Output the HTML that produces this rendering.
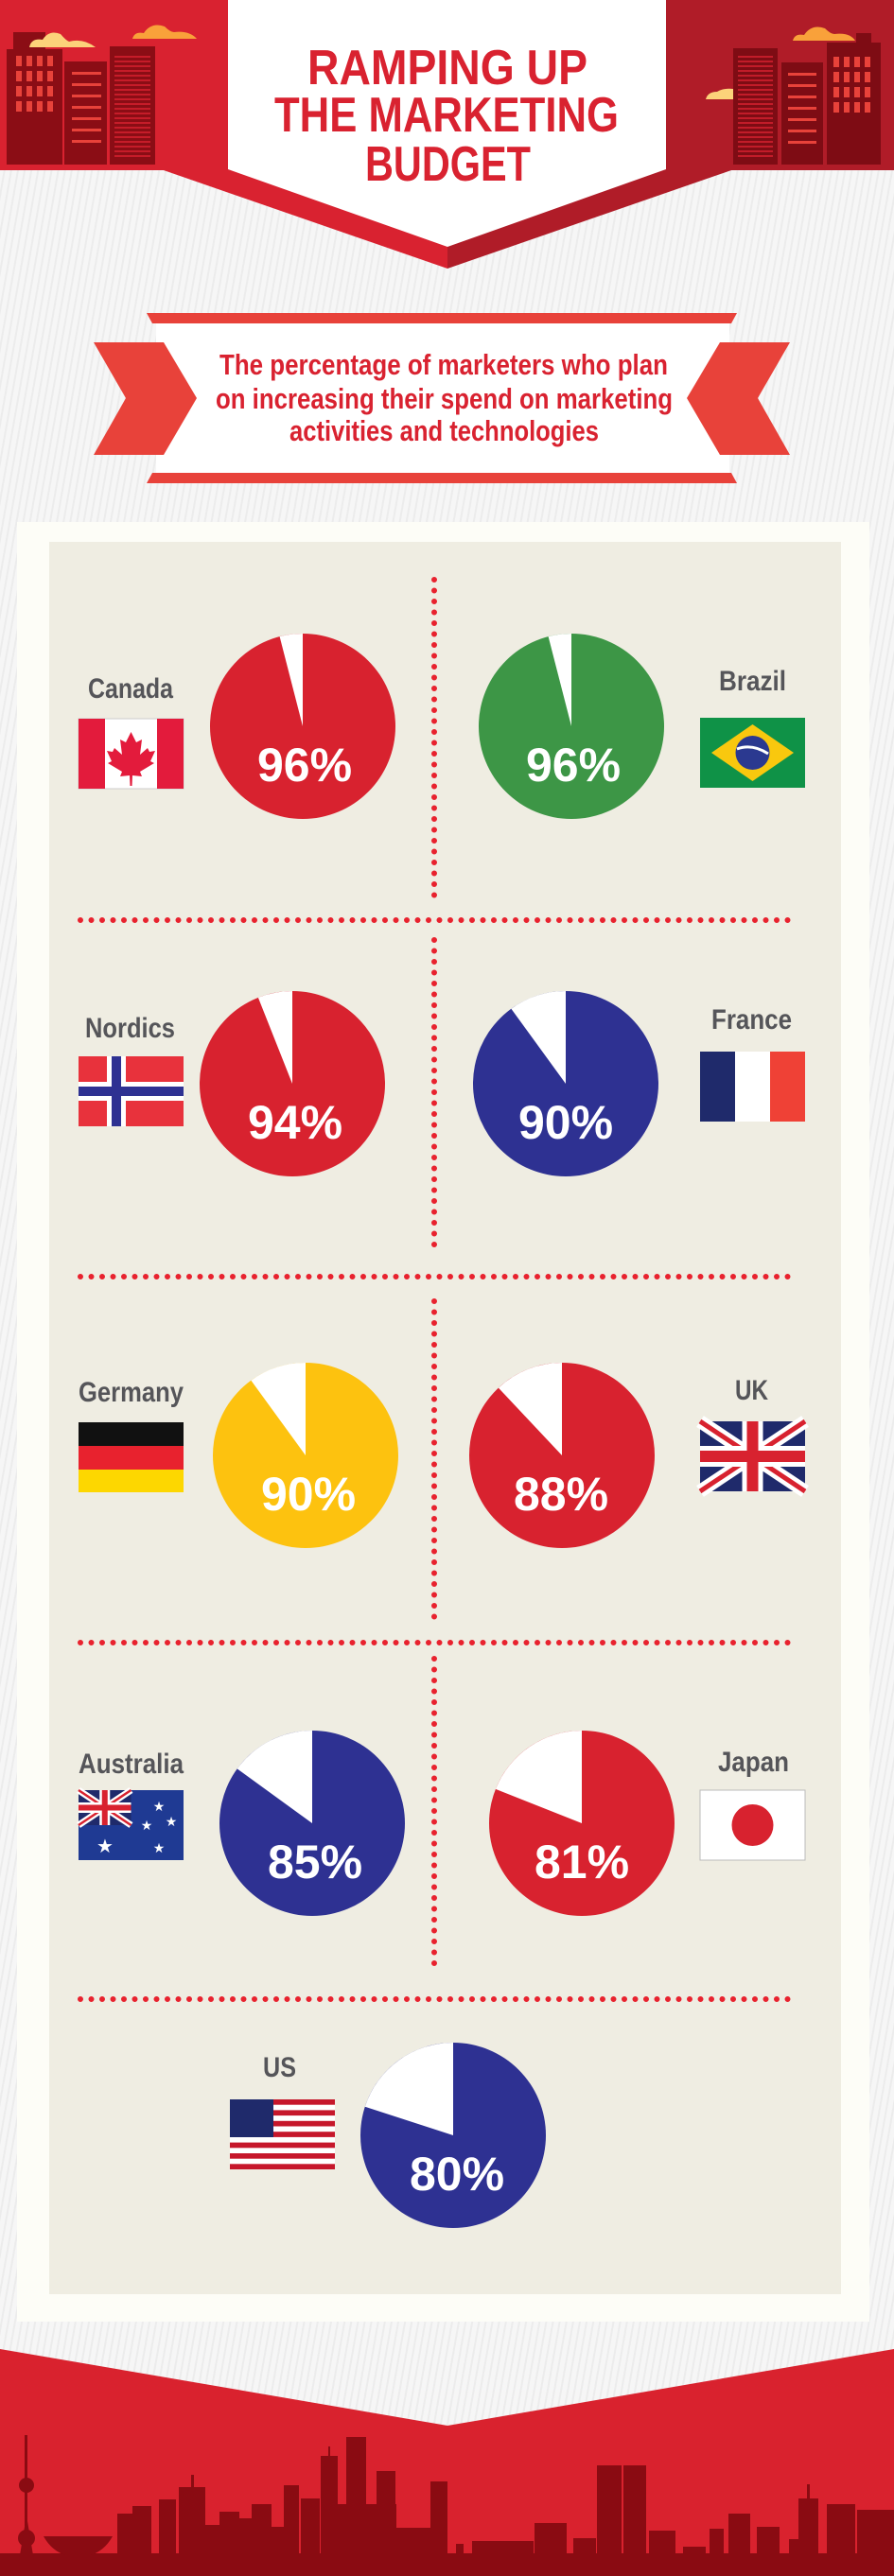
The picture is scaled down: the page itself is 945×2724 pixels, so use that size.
<!DOCTYPE html>
<html><head><meta charset="utf-8"><style>
html,body{margin:0;padding:0;background:#f4f4f4;}
svg{display:block;}
.t{font-family:"Liberation Sans",sans-serif;font-weight:bold;}
</style></head><body>
<svg width="945" height="2724" viewBox="0 0 945 2724" xmlns="http://www.w3.org/2000/svg">
<defs>
<pattern id="st" width="7" height="7" patternUnits="userSpaceOnUse" patternTransform="rotate(10)">
<rect width="7" height="7" fill="#f6f6f6"/><rect width="2" height="7" fill="#ececec"/>
</pattern>
<g id="uk">
<rect width="111" height="74" fill="#1f2a6b"/>
<path d="M0 0L111 74M111 0L0 74" stroke="#fff" stroke-width="14"/>
<path d="M0 0L111 74M111 0L0 74" stroke="#d8222f" stroke-width="5"/>
<path d="M55.5 0V74M0 37H111" stroke="#fff" stroke-width="22"/>
<path d="M55.5 0V74M0 37H111" stroke="#d8222f" stroke-width="12"/>
</g>
</defs>
<rect width="945" height="2724" fill="url(#st)"/>

<!-- header -->
<rect x="0" y="0" width="241" height="180" fill="#d92230"/>
<rect x="704" y="0" width="241" height="180" fill="#b01c28"/>
<polygon points="170,179 473,179 473,284" fill="#d92230"/>
<polygon points="473,179 776,179 473,284" fill="#b01c28"/>
<polygon points="241,0 704,0 704,179 473,261 241,179" fill="#fff"/>
<!-- left buildings -->
<g fill="#8b0d15">
<rect x="7" y="52" width="59" height="122"/><rect x="14" y="34" width="34" height="19"/>
<rect x="68" y="65" width="45" height="109"/>
<rect x="116" y="49" width="48" height="125"/>
</g>
<g fill="#e8423a">
<rect x="17" y="59" width="6" height="11"/><rect x="28" y="59" width="6" height="11"/><rect x="39" y="59" width="6" height="11"/><rect x="50" y="59" width="6" height="11"/>
<rect x="17" y="75" width="6" height="11"/><rect x="28" y="75" width="6" height="11"/><rect x="39" y="75" width="6" height="11"/><rect x="50" y="75" width="6" height="11"/>
<rect x="17" y="91" width="6" height="11"/><rect x="28" y="91" width="6" height="11"/><rect x="39" y="91" width="6" height="11"/><rect x="50" y="91" width="6" height="11"/>
<rect x="17" y="107" width="6" height="11"/><rect x="28" y="107" width="6" height="11"/><rect x="39" y="107" width="6" height="11"/><rect x="50" y="107" width="6" height="11"/>
<rect x="76" y="76" width="31" height="3"/><rect x="76" y="88" width="31" height="3"/><rect x="76" y="100" width="31" height="3"/><rect x="76" y="112" width="31" height="3"/><rect x="76" y="124" width="31" height="3"/><rect x="76" y="136" width="31" height="3"/><rect x="76" y="148" width="31" height="3"/>
</g>
<g stroke="#d92230" stroke-width="1.5">
<path d="M121 60H159M121 65H159M121 70H159M121 75H159M121 80H159M121 85H159M121 90H159M121 95H159M121 100H159M121 105H159M121 110H159M121 115H159M121 120H159M121 125H159M121 130H159M121 135H159M121 140H159M121 145H159M121 150H159M121 155H159M121 160H159M121 165H159"/>
</g>
<path d="M31 50Q33 40 45 42Q52 31 64 36Q70 43 73 44Q88 40 101 50Z" fill="#fcd27a"/>
<path d="M140 41Q142 33 152 35Q160 23 174 28Q180 34 184 34Q200 32 208 41Z" fill="#f9a13a"/>
<!-- right buildings -->
<g fill="#7e0c14">
<rect x="775" y="51" width="47" height="123"/>
<rect x="826" y="66" width="44" height="108"/>
<rect x="874" y="45" width="57" height="129"/><rect x="905" y="35" width="16" height="11"/>
</g>
<g stroke="#d92230" stroke-width="1.5">
<path d="M780 60H817M780 65H817M780 70H817M780 75H817M780 80H817M780 85H817M780 90H817M780 95H817M780 100H817M780 105H817M780 110H817M780 115H817M780 120H817M780 125H817M780 130H817M780 135H817M780 140H817M780 145H817M780 150H817M780 155H817M780 160H817M780 165H817"/>
</g>
<g fill="#e8423a">
<rect x="833" y="77" width="30" height="3"/><rect x="833" y="89" width="30" height="3"/><rect x="833" y="101" width="30" height="3"/><rect x="833" y="113" width="30" height="3"/><rect x="833" y="125" width="30" height="3"/><rect x="833" y="137" width="30" height="3"/><rect x="833" y="149" width="30" height="3"/>
<rect x="881" y="60" width="6" height="11"/><rect x="892" y="60" width="6" height="11"/><rect x="903" y="60" width="6" height="11"/><rect x="914" y="60" width="6" height="11"/>
<rect x="881" y="76" width="6" height="11"/><rect x="892" y="76" width="6" height="11"/><rect x="903" y="76" width="6" height="11"/><rect x="914" y="76" width="6" height="11"/>
<rect x="881" y="92" width="6" height="11"/><rect x="892" y="92" width="6" height="11"/><rect x="903" y="92" width="6" height="11"/><rect x="914" y="92" width="6" height="11"/>
<rect x="881" y="108" width="6" height="11"/><rect x="892" y="108" width="6" height="11"/><rect x="903" y="108" width="6" height="11"/><rect x="914" y="108" width="6" height="11"/>
</g>
<path d="M838 43Q840 35 850 37Q858 25 872 30Q878 36 882 36Q898 34 904 43Z" fill="#f9a13a"/>
<path d="M746 105Q748 97 758 97Q764 93 775 94V105Z" fill="#fcd27a"/>

<g class="t" fill="#d92230" font-size="52">
<text x="325" y="89" textLength="296" lengthAdjust="spacingAndGlyphs">RAMPING UP</text>
<text x="290" y="139" textLength="364" lengthAdjust="spacingAndGlyphs">THE MARKETING</text>
<text x="386" y="191" textLength="175" lengthAdjust="spacingAndGlyphs">BUDGET</text>
</g>

<!-- ribbon -->
<rect x="165" y="342" width="606" height="158" fill="#fff"/>
<polygon points="155,331 779,331 773,342 161,342" fill="#e8423a"/>
<polygon points="161,500 773,500 779,511 155,511" fill="#e8423a"/>
<polygon points="99,362 173,362 208,421 173,481 99,481 133,421" fill="#e8423a"/>
<polygon points="835,362 761,362 726,421 761,481 835,481 801,421" fill="#e8423a"/>
<g class="t" fill="#d92230" font-size="31">
<text x="232" y="396" textLength="474" lengthAdjust="spacingAndGlyphs">The percentage of marketers who plan</text>
<text x="228" y="432" textLength="483" lengthAdjust="spacingAndGlyphs">on increasing their spend on marketing</text>
<text x="306" y="466" textLength="327" lengthAdjust="spacingAndGlyphs">activities and technologies</text>
</g>

<!-- panel -->
<rect x="18" y="552" width="901" height="1903" fill="#fdfdf7"/>
<rect x="52" y="573" width="837" height="1853" fill="#efede2"/>

<!-- dotted lines -->
<g stroke="#e8222e" stroke-width="6" stroke-linecap="round" stroke-dasharray="0 11.5" fill="none">
<path d="M459 613V948M459 994V1326M459 1376V1712M459 1754V2085"/>
<path d="M85 973H834M85 1350H834M85 1737H834M85 2114H834"/>
</g>

<!-- pies -->
<g>
<circle cx="320" cy="768" r="98" fill="#d8222f"/><path d="M320 768L320 670A98 98 0 0 0 295.6 673.1Z" fill="#fff"/>
<circle cx="604" cy="768" r="98" fill="#3d9646"/><path d="M604 768L604 670A98 98 0 0 0 579.6 673.1Z" fill="#fff"/>
<circle cx="309" cy="1146" r="98" fill="#d8222f"/><path d="M309 1146L309 1048A98 98 0 0 0 272.9 1054.9Z" fill="#fff"/>
<circle cx="598" cy="1146" r="98" fill="#2e3192"/><path d="M598 1146L598 1048A98 98 0 0 0 540.4 1066.7Z" fill="#fff"/>
<circle cx="323" cy="1539" r="98" fill="#fdc20f"/><path d="M323 1539L323 1441A98 98 0 0 0 265.4 1459.7Z" fill="#fff"/>
<circle cx="594" cy="1539" r="98" fill="#d8222f"/><path d="M594 1539L594 1441A98 98 0 0 0 526.9 1467.6Z" fill="#fff"/>
<circle cx="330" cy="1928" r="98" fill="#2e3192"/><path d="M330 1928L330 1830A98 98 0 0 0 250.7 1870.4Z" fill="#fff"/>
<circle cx="615" cy="1928" r="98" fill="#d8222f"/><path d="M615 1928L615 1830A98 98 0 0 0 523.9 1891.9Z" fill="#fff"/>
<circle cx="479" cy="2258" r="98" fill="#2e3192"/><path d="M479 2258L479 2160A98 98 0 0 0 385.8 2227.7Z" fill="#fff"/>
</g>
<g class="t" fill="#fff" font-size="50" text-anchor="middle">
<text x="322" y="826">96%</text><text x="606" y="826">96%</text>
<text x="312" y="1204">94%</text><text x="598" y="1204">90%</text>
<text x="326" y="1597">90%</text><text x="593" y="1597">88%</text>
<text x="333" y="1986">85%</text><text x="615" y="1986">81%</text>
<text x="483" y="2316">80%</text>
</g>

<!-- labels -->
<g class="t" fill="#555559" font-size="30">
<text x="93" y="738" textLength="90" lengthAdjust="spacingAndGlyphs">Canada</text>
<text x="760" y="730" textLength="71" lengthAdjust="spacingAndGlyphs">Brazil</text>
<text x="90" y="1097" textLength="95" lengthAdjust="spacingAndGlyphs">Nordics</text>
<text x="752" y="1088" textLength="85" lengthAdjust="spacingAndGlyphs">France</text>
<text x="83" y="1482" textLength="111" lengthAdjust="spacingAndGlyphs">Germany</text>
<text x="777" y="1480" textLength="35" lengthAdjust="spacingAndGlyphs">UK</text>
<text x="83" y="1875" textLength="111" lengthAdjust="spacingAndGlyphs">Australia</text>
<text x="759" y="1873" textLength="75" lengthAdjust="spacingAndGlyphs">Japan</text>
<text x="278" y="2196" textLength="35" lengthAdjust="spacingAndGlyphs">US</text>
</g>

<!-- flags -->
<g transform="translate(83,760)">
<rect width="111" height="74" fill="#fff" stroke="#ccc"/><rect width="28" height="74" fill="#e31b3c"/><rect x="83" width="28" height="74" fill="#e31b3c"/>
<path d="M55.5 14L50 25L44 22L46 38L38 31L36 35L30 34L35 45L31 47L46 56L44 61L54 60L54.5 71H56.5L57 60L67 61L65 56L80 47L76 45L81 34L75 35L73 31L65 38L67 22L61 25Z" fill="#e31b3c"/>
</g>
<g transform="translate(740,759)">
<rect width="111" height="74" fill="#0f9247"/><polygon points="12,37 55.5,7 99,37 55.5,67" fill="#f9c80e"/><circle cx="55.5" cy="37" r="18" fill="#2b3990"/>
<path d="M39 33Q55 27 72 38" stroke="#fff" stroke-width="3" fill="none"/>
</g>
<g transform="translate(83,1117)">
<rect width="111" height="74" fill="#e8323c"/><rect x="30" width="20" height="74" fill="#fff"/><rect y="27" width="111" height="20" fill="#fff"/>
<rect x="35" width="10" height="74" fill="#2e3192"/><rect y="32" width="111" height="10" fill="#2e3192"/>
</g>
<g transform="translate(740,1112)">
<rect width="37" height="74" fill="#1f2a6b"/><rect x="37" width="37" height="74" fill="#fff"/><rect x="74" width="37" height="74" fill="#ef4136"/>
</g>
<g transform="translate(83,1504)">
<rect width="111" height="25" fill="#111"/><rect y="25" width="111" height="25" fill="#e8222e"/><rect y="50" width="111" height="24" fill="#fdd700"/>
</g>
<g transform="translate(740,1503)"><use href="#uk"/></g>
<g transform="translate(83,1893)">
<rect width="111" height="74" fill="#1f3a93"/>
<g transform="scale(0.5)"><use href="#uk"/></g>
<g fill="#fff" font-size="14" font-family="DejaVu Sans" text-anchor="middle">
<text x="28" y="66" font-size="20">★</text><text x="85" y="22">★</text><text x="72" y="42">★</text><text x="98" y="38">★</text><text x="85" y="66">★</text>
</g>
</g>
<g transform="translate(740,1893)">
<rect width="111" height="74" fill="#fff" stroke="#bbb"/><circle cx="55.5" cy="37" r="22" fill="#d8222f"/>
</g>
<g transform="translate(243,2220)">
<rect width="111" height="74" fill="#fff"/>
<g fill="#c6172b">
<rect y="0" width="111" height="5.7"/><rect y="11.4" width="111" height="5.7"/><rect y="22.8" width="111" height="5.7"/><rect y="34.2" width="111" height="5.7"/><rect y="45.6" width="111" height="5.7"/><rect y="57" width="111" height="5.7"/><rect y="68.3" width="111" height="5.7"/>
</g>
<rect width="46" height="40" fill="#1f2a6b"/>
</g>

<!-- bottom -->
<polygon points="0,2484 473,2565 945,2484 945,2724 0,2724" fill="#d9222e"/>
<g fill="#8a0b12">
<rect x="0" y="2700" width="945" height="24"/>
<rect x="26" y="2575" width="3" height="130"/><circle cx="28" cy="2628" r="8"/><circle cx="28" cy="2684" r="9"/><polygon points="20,2708 28,2660 36,2708"/>
<path d="M46 2682H119Q110 2698 95 2702H70Q55 2698 46 2682Z"/><rect x="69" y="2695" width="27" height="13"/>
<rect x="124" y="2658" width="18" height="50"/><rect x="140" y="2650" width="20" height="58"/><rect x="168" y="2643" width="18" height="65"/>
<rect x="189" y="2630" width="28" height="78"/><rect x="202" y="2617" width="3" height="14"/>
<rect x="217" y="2670" width="15" height="38"/>
<rect x="232" y="2656" width="21" height="52"/><rect x="253" y="2663" width="13" height="45"/><rect x="266" y="2648" width="21" height="60"/><rect x="287" y="2672" width="13" height="36"/>
<rect x="300" y="2628" width="16" height="80"/><rect x="318" y="2642" width="20" height="66"/>
<rect x="339" y="2597" width="18" height="111"/><rect x="347" y="2587" width="2" height="12"/>
<rect x="357" y="2648" width="9" height="60"/>
<rect x="366" y="2577" width="21" height="131"/><rect x="387" y="2648" width="32" height="60"/><rect x="398" y="2613" width="20" height="95"/>
<rect x="419" y="2673" width="36" height="35"/><rect x="455" y="2624" width="18" height="84"/>
<rect x="473" y="2700" width="33" height="8"/><rect x="482" y="2690" width="8" height="18"/>
<rect x="499" y="2687" width="65" height="21"/><rect x="565" y="2668" width="34" height="40"/>
<rect x="606" y="2684" width="24" height="24"/><rect x="631" y="2607" width="26" height="101"/><rect x="659" y="2607" width="24" height="101"/>
<rect x="686" y="2676" width="28" height="32"/><rect x="722" y="2693" width="24" height="15"/><rect x="750" y="2674" width="15" height="34"/>
<rect x="770" y="2658" width="23" height="50"/><rect x="800" y="2672" width="24" height="36"/>
<rect x="834" y="2685" width="31" height="23"/><rect x="844" y="2642" width="21" height="66"/><rect x="853" y="2627" width="3" height="16"/>
<rect x="874" y="2648" width="30" height="60"/><rect x="906" y="2654" width="39" height="54"/>
</g>
</svg>
</body></html>
